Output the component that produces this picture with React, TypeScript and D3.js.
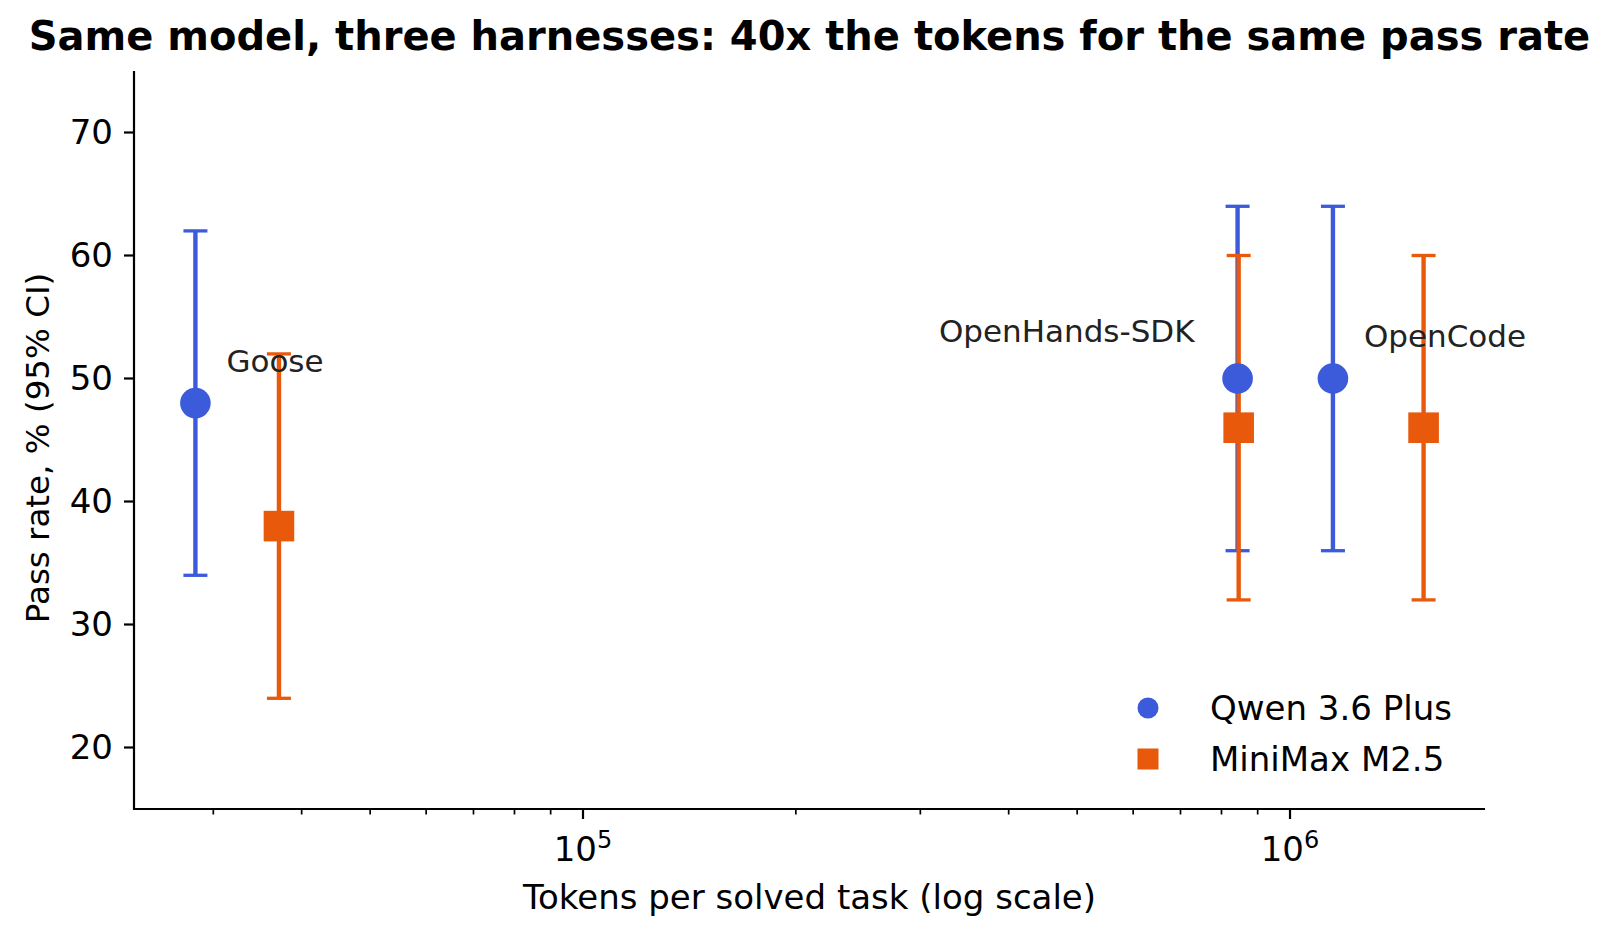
import React, { useEffect, useRef } from 'react';
import * as d3 from 'd3';

const width: number = 1611;
const height: number = 939;

// harnesses, left to right
const harnesses: string[] = ['Goose', 'OpenHands-SDK', 'OpenCode'];
const seriesNames: string[] = ['Qwen 3.6 Plus', 'MiniMax M2.5'];

// tokens per solved task
const qwenTokens: number[] = [28300, 843000, 1150000];
const minimaxTokens: number[] = [37150, 846000, 1545000];

// pass rate % with 95% CI
const qwenRate: number[] = [48, 50, 50];
const qwenLow: number[] = [34, 36, 36];
const qwenHigh: number[] = [62, 64, 64];
const minimaxRate: number[] = [38, 46, 46];
const minimaxLow: number[] = [24, 32, 32];
const minimaxHigh: number[] = [52, 60, 60];

const yTicks: number[] = [20, 30, 40, 50, 60, 70];
const xMajorTicks: number[] = [1e5, 1e6];

const blue = '#3b5bdb';
const orange = '#e8590c';
const font = '"DejaVu Sans", sans-serif';

const margin = { left: 134, right: 1485, top: 71, bottom: 809 };

export default function App() {
  const ref = useRef<SVGSVGElement>(null);

  useEffect(() => {
    const svg: any = d3.select(ref.current);
    svg.selectAll('*').remove();

    // matplotlib-like 5% padding on log x
    const allTokens = [...qwenTokens, ...minimaxTokens];
    const lo = Math.log10(d3.min(allTokens) as number);
    const hi = Math.log10(d3.max(allTokens) as number);
    const pad = (hi - lo) * 0.05;

    const xScale: any = d3.scaleLog()
      .domain([Math.pow(10, lo - pad), Math.pow(10, hi + pad)])
      .range([margin.left, margin.right]);

    const yScale: any = d3.scaleLinear()
      .domain([15, 75])
      .range([margin.bottom, margin.top]);

    // title
    svg.append('text')
      .attr('x', (margin.left + margin.right) / 2)
      .attr('y', 50)
      .attr('text-anchor', 'middle')
      .style('font-family', font)
      .style('font-weight', 'bold')
      .style('font-size', '40px')
      .text('Same model, three harnesses: 40x the tokens for the same pass rate');

    // spines
    svg.append('line')
      .attr('x1', margin.left).attr('x2', margin.left)
      .attr('y1', margin.top).attr('y2', margin.bottom + 1)
      .attr('stroke', '#000').attr('stroke-width', 2.2);
    svg.append('line')
      .attr('x1', margin.left - 1).attr('x2', margin.right)
      .attr('y1', margin.bottom).attr('y2', margin.bottom)
      .attr('stroke', '#000').attr('stroke-width', 2.2);

    // y ticks
    const yt = svg.selectAll('.ytick').data(yTicks).enter().append('g').classed('ytick', true);
    yt.append('line')
      .attr('x1', margin.left - 10).attr('x2', margin.left)
      .attr('y1', (d: number) => yScale(d)).attr('y2', (d: number) => yScale(d))
      .attr('stroke', '#000').attr('stroke-width', 2.2);
    yt.append('text')
      .attr('x', margin.left - 21)
      .attr('y', (d: number) => yScale(d) + 11.5)
      .attr('text-anchor', 'end')
      .style('font-family', font)
      .style('font-size', '34px')
      .text((d: number) => d);

    // x minor ticks
    const [d0, d1] = xScale.domain();
    const minor: number[] = [];
    for (let dec = 1e4; dec <= 1e6; dec *= 10) {
      for (let k = 2; k <= 9; k++) {
        const v = k * dec;
        if (v >= d0 && v <= d1) minor.push(v);
      }
    }
    svg.selectAll('.xminor').data(minor).enter().append('line').classed('xminor', true)
      .attr('x1', (d: number) => xScale(d)).attr('x2', (d: number) => xScale(d))
      .attr('y1', margin.bottom).attr('y2', margin.bottom + 5.5)
      .attr('stroke', '#000').attr('stroke-width', 1.7);

    // x major ticks
    const xt = svg.selectAll('.xtick').data(xMajorTicks).enter().append('g').classed('xtick', true);
    xt.append('line')
      .attr('x1', (d: number) => xScale(d)).attr('x2', (d: number) => xScale(d))
      .attr('y1', margin.bottom).attr('y2', margin.bottom + 10)
      .attr('stroke', '#000').attr('stroke-width', 2.2);
    const xl = xt.append('text')
      .attr('x', (d: number) => xScale(d))
      .attr('y', 861)
      .attr('text-anchor', 'middle')
      .style('font-family', font)
      .style('font-size', '34px');
    xl.append('tspan').text('10');
    xl.append('tspan')
      .attr('dy', -13)
      .style('font-size', '24px')
      .text((d: number) => Math.round(Math.log10(d)));

    // axis labels
    svg.append('text')
      .attr('x', (margin.left + margin.right) / 2)
      .attr('y', 909)
      .attr('text-anchor', 'middle')
      .style('font-family', font)
      .style('font-size', '34px')
      .text('Tokens per solved task (log scale)');
    svg.append('text')
      .attr('transform', `translate(49,448) rotate(-90)`)
      .attr('text-anchor', 'middle')
      .style('font-family', font)
      .style('font-size', '32.5px')
      .text('Pass rate, % (95% CI)');

    const series = [
      { name: seriesNames[0], color: blue, tokens: qwenTokens, rate: qwenRate, low: qwenLow, high: qwenHigh, shape: 'circle' },
      { name: seriesNames[1], color: orange, tokens: minimaxTokens, rate: minimaxRate, low: minimaxLow, high: minimaxHigh, shape: 'square' },
    ];

    // error bars first, markers on top
    series.forEach((s) => {
      const g = svg.append('g');
      s.tokens.forEach((t: number, i: number) => {
        const x = xScale(t);
        g.append('line')
          .attr('x1', x).attr('x2', x)
          .attr('y1', yScale(s.low[i])).attr('y2', yScale(s.high[i]))
          .attr('stroke', s.color).attr('stroke-width', 4.4);
        [s.low[i], s.high[i]].forEach((v: number) => {
          g.append('line')
            .attr('x1', x - 12).attr('x2', x + 12)
            .attr('y1', yScale(v)).attr('y2', yScale(v))
            .attr('stroke', s.color).attr('stroke-width', 3.3);
        });
      });
    });

    series.forEach((s) => {
      const g = svg.append('g');
      s.tokens.forEach((t: number, i: number) => {
        if (s.shape === 'circle') {
          g.append('circle')
            .attr('cx', xScale(t)).attr('cy', yScale(s.rate[i]))
            .attr('r', 15.3).attr('fill', s.color);
        } else {
          g.append('rect')
            .attr('x', xScale(t) - 15.3).attr('y', yScale(s.rate[i]) - 15.3)
            .attr('width', 30.6).attr('height', 30.6).attr('fill', s.color);
        }
      });
    });

    // harness labels, offset from the Qwen point
    const labelOffsets = [
      { dx: 31, dy: -31, anchor: 'start' },
      { dx: -43, dy: -37, anchor: 'end' },
      { dx: 31, dy: -32, anchor: 'start' },
    ];
    harnesses.forEach((h: string, i: number) => {
      svg.append('text')
        .attr('x', xScale(qwenTokens[i]) + labelOffsets[i].dx)
        .attr('y', yScale(qwenRate[i]) + labelOffsets[i].dy)
        .attr('text-anchor', labelOffsets[i].anchor)
        .attr('fill', '#222')
        .style('font-family', font)
        .style('font-size', '31px')
        .text(h);
    });

    // legend
    const leg = svg.append('g');
    series.forEach((s, i: number) => {
      const cy = 708 + i * 51;
      if (s.shape === 'circle') {
        leg.append('circle').attr('cx', 1148).attr('cy', cy).attr('r', 10.5).attr('fill', s.color);
      } else {
        leg.append('rect').attr('x', 1137.5).attr('y', cy - 10.5).attr('width', 21).attr('height', 21).attr('fill', s.color);
      }
      leg.append('text')
        .attr('x', 1210)
        .attr('y', cy + 11.5)
        .style('font-family', font)
        .style('font-size', '34px')
        .text(s.name);
    });
  }, []);

  return (
    <svg
      ref={ref}
      width={width}
      height={height}
      viewBox={`0 0 ${width} ${height}`}
      style={{ position: 'absolute', left: 0, top: 0, background: '#fff' }}
    />
  );
}
